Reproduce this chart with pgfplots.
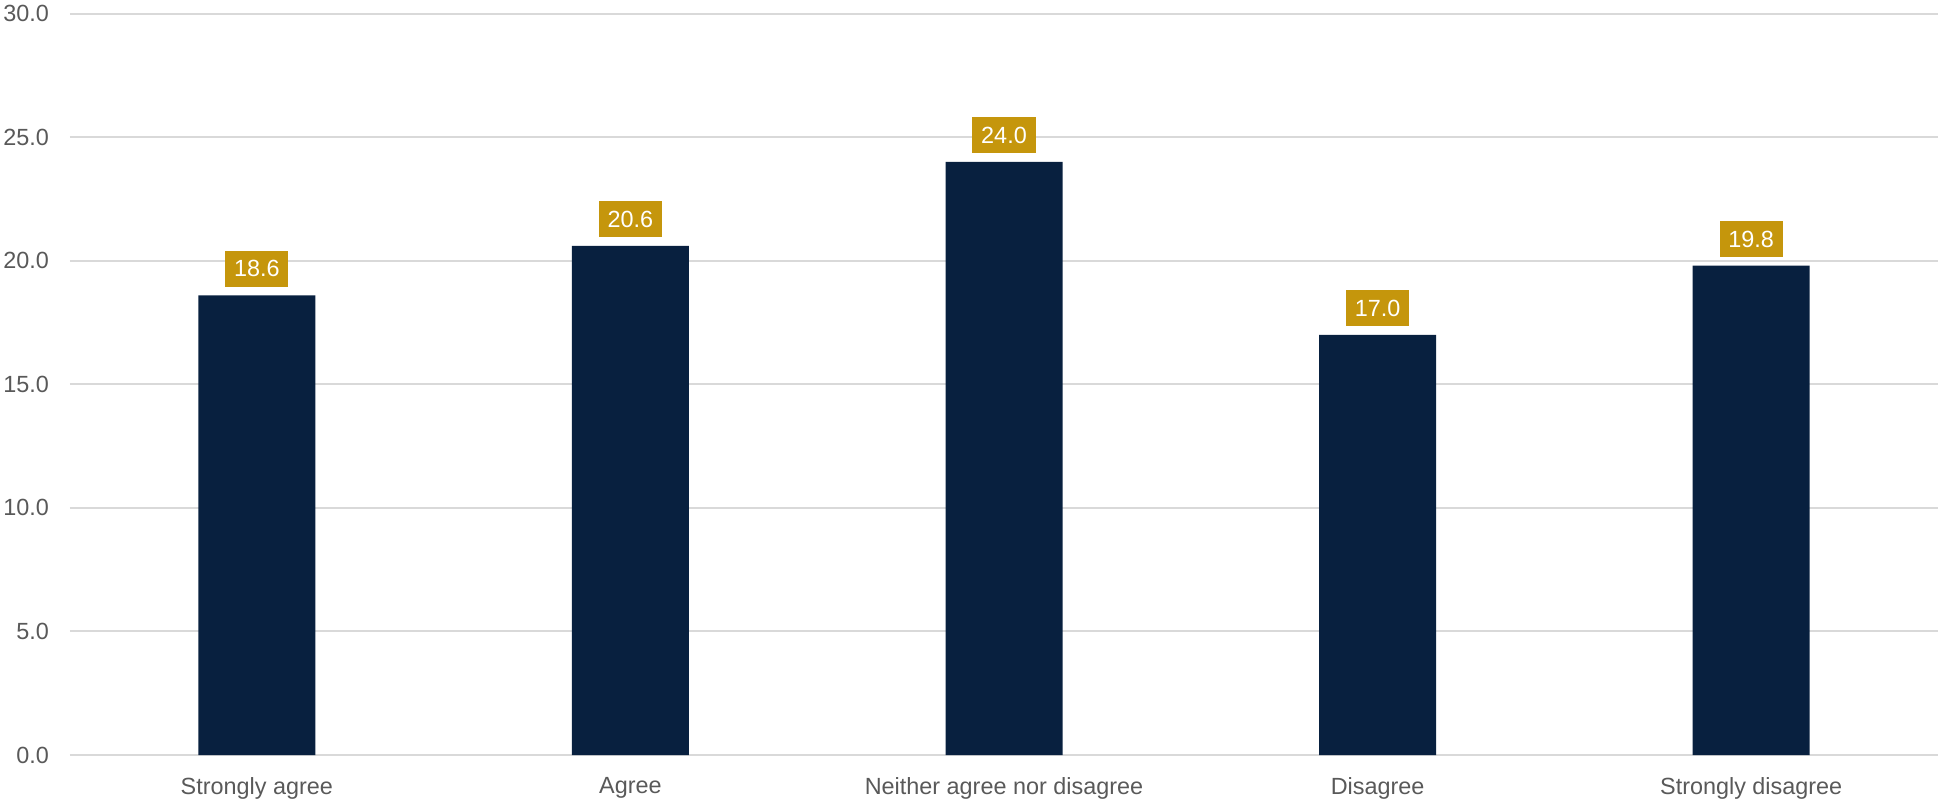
\documentclass[border=0pt]{standalone}
\usepackage{fontspec}
\setmainfont{Liberation Sans}
\usepackage{pgfplots}
\pgfplotsset{compat=1.18}
\definecolor{barblue}{HTML}{08203F}
\definecolor{gold}{HTML}{C5960C}
\definecolor{tickgray}{HTML}{595959}
\definecolor{gridgray}{HTML}{D9D9D9}
\begin{document}
\begin{tikzpicture}
\begin{axis}[
  scale only axis,
  width=934pt, height=370.75pt,
  xmin=-0.5, xmax=4.5,
  ymin=0, ymax=30,
  ytick={0,5,...,30},
  xtick=data,
  xticklabels={Strongly agree,Agree,Neither agree nor disagree,Disagree,Strongly disagree},
  axis lines*=left,
  x axis line style={draw=gridgray, line width=1pt, -},
  y axis line style={draw=none},
  ymajorgrids,
  grid style={draw=gridgray, line width=1pt},
  major tick length=0pt,
  tick style={draw=none},
  yticklabel style={/pgf/number format/fixed, /pgf/number format/fixed zerofill, /pgf/number format/precision=1, xshift=-7pt},
  /pgf/number format/assume math mode=true,
  ticklabel style={font=\fontsize{11.7}{14}\selectfont, text=tickgray},
  xticklabel style={yshift=-7.5pt},
  clip=false,
  nodes near coords,
  nodes near coords style={
    /pgf/number format/fixed, /pgf/number format/fixed zerofill, /pgf/number format/precision=1,
    font=\fontsize{11.7}{14}\selectfont, text=white, fill=gold,
    inner xsep=4.4pt, minimum height=18pt, anchor=south, yshift=4pt},
]
\addplot[ybar, bar width=58.5pt, fill=barblue, draw=none] coordinates {
  (0,18.6) (1,20.6) (2,24.0) (3,17.0) (4,19.8)
};
\end{axis}
\pgfresetboundingbox
\path[use as bounding box] (-35pt,-24.5pt) rectangle (934pt,377.5pt);
\end{tikzpicture}
\end{document}
